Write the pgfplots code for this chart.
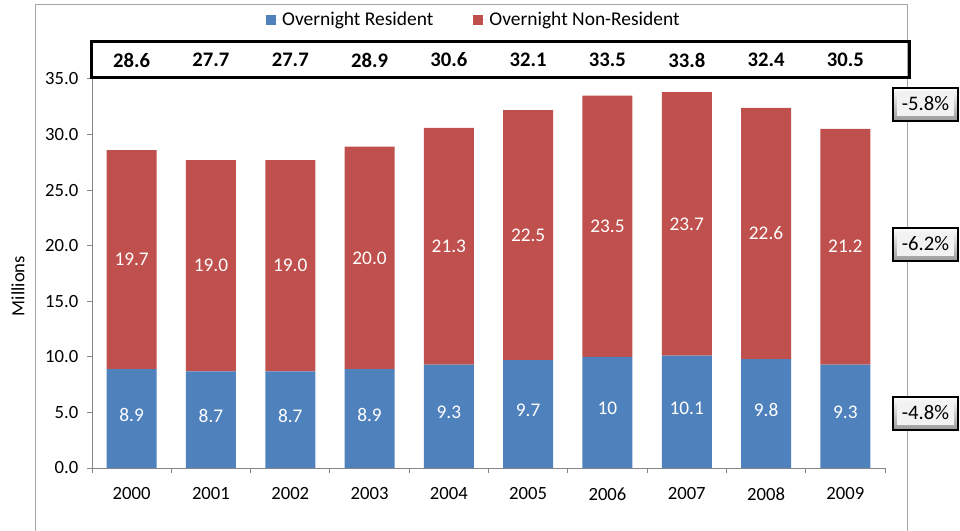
\documentclass[border=0pt]{standalone}
\usepackage{fontspec}
\setmainfont{Carlito}
\usepackage{pgfplots}
\usepackage{pgfplotstable}
\pgfplotsset{compat=1.18}

\definecolor{resblue}{HTML}{4F81BD}
\definecolor{nonred}{HTML}{C0504D}
\definecolor{axgray}{HTML}{868686}
\definecolor{framegray}{HTML}{A6A6A6}

\newcommand\ftick{\fontsize{14}{16}\selectfont}
\newcommand\fleg{\fontsize{14.6}{17}\selectfont}
\newcommand\flab{\fontsize{14.5}{17}\selectfont}
\newcommand\ftot{\fontsize{15.5}{18}\selectfont\bfseries}
\newcommand\fchg{\fontsize{15.5}{18}\selectfont}

% visitors (millions): resident, non-resident, total
\pgfplotstableread{
x res non tot reslab nonlab totlab
0 8.9 19.7 28.6 8.9 19.7 28.6
1 8.7 19.0 27.7 8.7 19.0 27.7
2 8.7 19.0 27.7 8.7 19.0 27.7
3 8.9 20.0 28.9 8.9 20.0 28.9
4 9.3 21.3 30.6 9.3 21.3 30.6
5 9.7 22.5 32.1 9.7 22.5 32.1
6 10.0 23.5 33.5 10 23.5 33.5
7 10.1 23.7 33.8 10.1 23.7 33.8
8 9.8 22.6 32.4 9.8 22.6 32.4
9 9.3 21.2 30.5 9.3 21.2 30.5
}\visitors

\pgfplotsset{
  chartframe/.style={
    scale only axis, width=594.75pt, height=321pt,
    xmin=-0.5, xmax=9.5, ymin=0, ymax=38.5,
    at={(69pt,-351pt)}, anchor=south west},
  square legend/.style={
    legend image code/.code={\fill[##1] (0pt,-3.75pt) rectangle (7.5pt,3.75pt);
      \path (0pt,0pt) -- (10pt,0pt);}},
}

% bevelled change box: top y (px), text
\newcommand\chgbox[2]{%
  \shade[top color=white, bottom color=black!40] (893,#1) rectangle (958,#1+33);
  \fill[white!95!black] (896.5,#1+3.5) rectangle (954,#1+28);
  \draw[black, line width=1.5pt] (893,#1) rectangle (958,#1+33);
  \node[font=\fchg] at (925.5,#1+16) {#2};
}

\begin{document}
\begin{tikzpicture}
\path[use as bounding box] (0,0) rectangle (720pt,-398.25pt);

\begin{scope}[x=0.75pt,y=-0.75pt]
  \draw[framegray, line width=0.75pt] (35,531) -- (35,5) -- (907,5) -- (907,531);
\end{scope}

\begin{axis}[chartframe,
  ybar stacked, bar width=37.5pt,
  axis x line=bottom, axis y line=left,
  axis line style={axgray, line width=0.75pt, -},
  tick align=outside,
  tick style={axgray, line width=0.75pt},
  major tick length=3.75pt, minor tick length=3.75pt,
  ytick={0,5,...,35},
  yticklabel style={/pgf/number format/.cd, fixed, fixed zerofill, precision=1, assume math mode=true, /tikz/.cd, font=\ftick, xshift=-3pt},
  xtick={0,...,9},
  xticklabels={2000,2001,2002,2003,2004,2005,2006,2007,2008,2009},
  major x tick style={draw=none},
  minor xtick={-0.5,0.5,...,9.5},
  xticklabel style={font=\ftick, yshift=-7.5pt},
  legend style={draw=none, fill=none, legend columns=2,
    at={(0.482,1.047)}, anchor=center, font=\fleg,
    /tikz/every even column/.append style={column sep=28pt}},
]
\addplot[fill=resblue, draw=none, square legend]
  table[x=x, y=res]{\visitors};
\addplot[fill=nonred, draw=none, square legend]
  table[x=x, y=non]{\visitors};
\legend{Overnight Resident, Overnight Non-Resident}
\end{axis}

% segment labels and totals
\begin{axis}[chartframe, axis lines=none, clip=false]
\addplot[draw=none, mark=none, nodes near coords, point meta=explicit symbolic,
  every node near coord/.style={anchor=center, text=white, font=\flab, yshift=3pt}]
  table[x=x, y expr=\thisrow{res}/2, meta=reslab]{\visitors};
\addplot[draw=none, mark=none, nodes near coords, point meta=explicit symbolic,
  every node near coord/.style={anchor=center, text=white, font=\flab}]
  table[x=x, y expr=\thisrow{res}+\thisrow{non}/2, meta=nonlab]{\visitors};
\addplot[draw=none, mark=none, nodes near coords, point meta=explicit symbolic,
  every node near coord/.style={anchor=center, text=black, font=\ftot}]
  table[x=x, y expr=36.7, meta=totlab]{\visitors};
\end{axis}

\begin{scope}[x=0.75pt,y=-0.75pt]
  \draw[black, line width=2.25pt] (91.5,42) rectangle (909.5,77.5);
  \chgbox{88}{-5.8\%}
  \chgbox{228}{-6.2\%}
  \chgbox{397}{-4.8\%}
  \node[rotate=90, font=\ftick] at (18,286) {Millions};
\end{scope}
\end{tikzpicture}
\end{document}
